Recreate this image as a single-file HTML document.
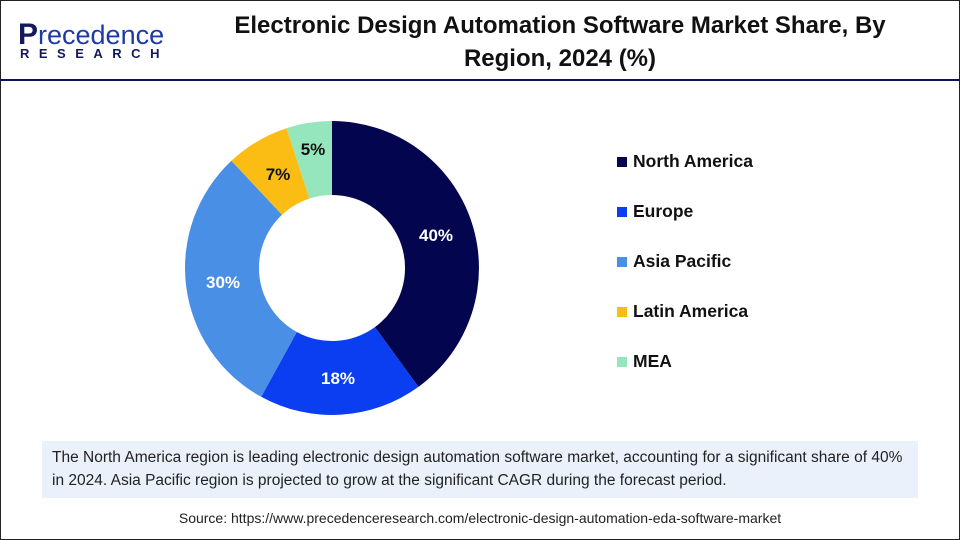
<!DOCTYPE html>
<html><head><meta charset="utf-8"><style>
body{margin:0;width:960px;height:540px;overflow:hidden;background:#fff;font-family:"Liberation Sans",Arial,sans-serif;}
.frame{position:absolute;left:0;top:0;width:958px;height:538px;border:1px solid #222;}
.hline{position:absolute;left:0;top:79px;width:960px;height:2px;background:#0b1452;}
.title{position:absolute;left:160px;width:800px;top:9px;text-align:center;font-weight:bold;font-size:24px;line-height:33px;color:#111;}
.note{position:absolute;left:42px;top:441px;width:876px;height:57px;background:#eaf1fb;font-size:15.5px;line-height:23px;color:#222;padding:5px 0 0 10px;box-sizing:border-box;white-space:nowrap;}
.src{position:absolute;left:0;width:960px;top:510px;text-align:center;font-size:14px;color:#222;}
.leg{position:absolute;left:617px;font-weight:bold;font-size:17.5px;color:#111;}
.leg i{display:inline-block;width:10px;height:10px;margin-right:6px;}
</style></head><body>
<div class="frame"></div>
<div style="position:absolute;left:18px;top:18px;font-size:30px;color:#13195a;font-weight:bold;">P<span style="font-weight:normal;font-size:27px;color:#1c3aa8">recedence</span></div>
<div style="position:absolute;left:20px;top:46px;font-size:13px;color:#13195a;font-weight:bold;letter-spacing:9.5px">RESEARCH</div>
<div class="hline"></div>
<div class="title">Electronic Design Automation Software Market Share, By<br>Region, 2024 (%)</div>
<svg style="position:absolute;left:0;top:0" width="960" height="540">
<path d="M332,121 A147,147 0 0 1 418.4,386.9 L374.9,327.1 A73,73 0 0 0 332,195 Z" fill="#03064f"/>
<path d="M418.4,386.9 A147,147 0 0 1 261.2,396.8 L296.8,332 A73,73 0 0 0 374.9,327.1 Z" fill="#0a3ef0"/>
<path d="M261.2,396.8 A147,147 0 0 1 231.4,160.8 L282,214.8 A73,73 0 0 0 296.8,332 Z" fill="#4a8fe6"/>
<path d="M231.4,160.8 A147,147 0 0 1 286.6,128.2 L309.4,198.6 A73,73 0 0 0 282,214.8 Z" fill="#fbbd13"/>
<path d="M286.6,128.2 A147,147 0 0 1 332,121 L332,195 A73,73 0 0 0 309.4,198.6 Z" fill="#95e6bd"/>
<g font-weight="bold" font-size="17" text-anchor="middle" font-family="Liberation Sans,Arial,sans-serif">
<text x="436" y="241" fill="#fff">40%</text>
<text x="338" y="384" fill="#fff">18%</text>
<text x="223" y="288" fill="#fff">30%</text>
<text x="278" y="180" fill="#111">7%</text>
<text x="313" y="155" fill="#111">5%</text>
</g>
</svg>
<div class="leg" style="top:151px"><i style="background:#03064f"></i>North America</div>
<div class="leg" style="top:201px"><i style="background:#0a3ef0"></i>Europe</div>
<div class="leg" style="top:251px"><i style="background:#4a8fe6"></i>Asia Pacific</div>
<div class="leg" style="top:301px"><i style="background:#fbbd13"></i>Latin America</div>
<div class="leg" style="top:351px"><i style="background:#95e6bd"></i>MEA</div>
<div class="note">The North America region is leading electronic design automation software market, accounting for a significant share of 40%<br>in 2024. Asia Pacific region is projected to grow at the significant CAGR during the forecast period.</div>
<div class="src">Source: https://www.precedenceresearch.com/electronic-design-automation-eda-software-market</div>
</body></html>
